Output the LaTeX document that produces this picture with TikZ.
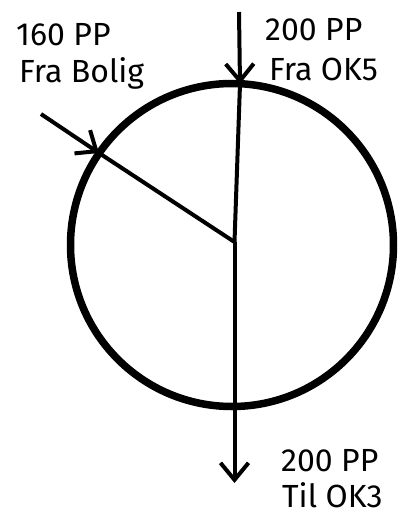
\documentclass[tikz,border=0pt]{standalone}
\usepackage{fontspec}
\setmainfont{Fira Sans}
\usetikzlibrary{arrows.meta}
\begin{document}
\begin{tikzpicture}[x=1pt,y=-1pt,
  flow/.style={line width=4pt},
  tipv/.style={-{Straight Barb[length=17pt,width=28pt,line width=4pt]}},
  lbl/.style={anchor=base west,inner sep=0pt,font=\fontsize{32}{37}\selectfont}]
\useasboundingbox (0,0) rectangle (401,515);
\draw[line width=7.5pt] (232,245) circle[radius=161.5];
\coordinate (c) at (234.5,242);
\coordinate (topin) at (239,12);
\coordinate (toptip) at (240,84);
\coordinate (diagin) at (41,114);
\coordinate (diagtip) at (99,153);
\coordinate (out) at (234.5,483);
\draw[flow,tipv] (topin) -- (toptip);
\draw[flow] (toptip) -- (c);
\draw[flow,tipv] (diagin) -- (diagtip);
\draw[flow] (diagtip) -- (c);
\draw[flow,tipv] (c) -- (out);
\node[lbl] (l1a) at (16,45) {160 PP};
\node[lbl] (l1b) at (19,82) {Fra Bolig};
\node[lbl] (l2a) at (265,40) {200 PP};
\node[lbl] (l2b) at (269,80) {Fra OK5};
\node[lbl] (l3a) at (281,471) {200 PP};
\node[lbl] (l3b) at (282,507) {Til OK3};
\end{tikzpicture}
\end{document}
